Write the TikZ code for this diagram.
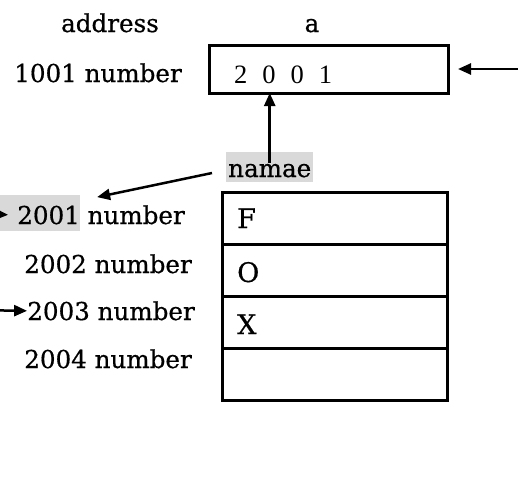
\documentclass[tikz,border=0pt]{standalone}
\usepackage{fontspec}
\setmainfont{DejaVu Serif}[FakeBold=0.6]
\newfontfamily\digitfont{Liberation Serif}
\usetikzlibrary{arrows.meta}
\definecolor{hlgray}{gray}{0.85}
\begin{document}
\begin{tikzpicture}[x=1pt,y=-1pt,
  every node/.style={inner sep=0pt, font=\fontsize{24.6}{30}\selectfont},
  lbl/.style={anchor=base east},
  cellval/.style={anchor=base west, font=\fontsize{27}{32}\selectfont},
  cell/.style={draw, line width=3pt, outer sep=0pt, minimum width=225pt,
               minimum height=52pt, anchor=north west},
  ptr/.style={line width=2.5pt, -{Triangle[length=13pt,width=11pt]}},
  hl/.style={fill=hlgray}]
\useasboundingbox (0,0) rectangle (518,493);

% column headings
\node[anchor=base] (hdaddr) at (110,32) {address};
\node[anchor=base] (hda) at (312,32) {a};

% pointer variable a
\node[lbl] (l1001) at (182,82) {1001 number};
\node[draw, line width=3pt, outer sep=0pt, minimum width=239pt, minimum height=48pt,
      anchor=north west] (abox) at (209,45) {};
\node[anchor=base west, font=\digitfont\fontsize{26.5}{30}\selectfont] (aval) at (234,83)
  {2\hspace{15pt}0\hspace{15pt}0\hspace{15pt}1};

% array namae
\node[hl, anchor=base west, inner xsep=2pt, text height=25pt, text depth=5pt]
  (namae) at (226,177) {namae};
\node[cell] (c1) at (222,192) {};
\node[cell] (c2) at (c1.south west) {};
\node[cell] (c3) at (c2.south west) {};
\node[cell] (c4) at (c3.south west) {};
\node[cellval] (vF) at ([shift={(15,36)}]c1.north west) {F};
\node[cellval] (vO) at ([shift={(15,38)}]c2.north west) {O};
\node[cellval] (vX) at ([shift={(15,38)}]c3.north west) {X};

% addresses of the array cells
\fill[hl] (0,195) rectangle (80,231);
\node[lbl] (l2001) at (185,224) {2001 number};
\node[lbl] (l2002) at (192,273) {2002 number};
\node[lbl] (l2003) at (195,320) {2003 number};
\node[lbl] (l2004) at (192,368) {2004 number};

% pointers
\coordinate (fromR) at (545,69);
\coordinate (fromL1) at (-30,213);
\coordinate (fromL3) at (-30,310);
\draw[ptr] (fromR) -- ([xshift=10pt]abox.east);
\draw[ptr] ([yshift=4pt]namae.center) -- (namae.center |- abox.south);
\draw[ptr] ([shift={(-14,6)}]namae.west) -- ([shift={(80,-8)}]l2001.north west);
\draw[ptr] (fromL1) -- ([xshift=-9pt]l2001.west);
\draw[ptr] (fromL3) -- (l2003.west);
\end{tikzpicture}
\end{document}
